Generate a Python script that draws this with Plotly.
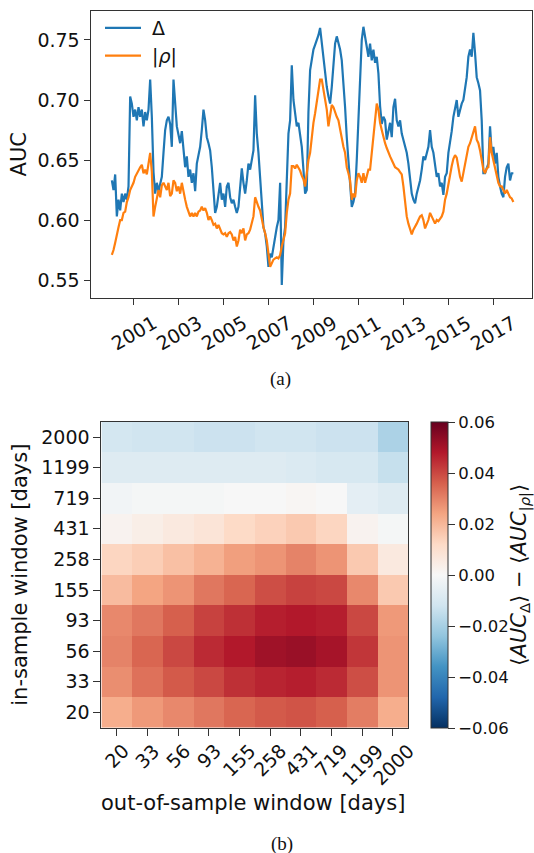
import pandas as pd
import plotly.graph_objects as go

# ---------------- data: panel (a) ----------------
series_start = "2000-01-11"
sample_step = "650h"  # ~27 days between read-off samples

delta_auc = [
    0.633, 0.625, 0.638, 0.603, 0.617, 0.608, 0.622, 0.615, 0.622, 0.617, 0.628,
    0.703, 0.697, 0.686, 0.692, 0.683, 0.694, 0.686, 0.692, 0.678, 0.690, 0.683, 0.692,
    0.717, 0.686, 0.640, 0.622, 0.631, 0.624, 0.631, 0.636, 0.656, 0.675, 0.683, 0.686,
    0.680, 0.661, 0.717, 0.700, 0.678, 0.671, 0.664, 0.674, 0.658, 0.644,
    0.653, 0.636, 0.642, 0.631, 0.639, 0.624, 0.647, 0.653, 0.661, 0.675,
    0.692, 0.683, 0.669, 0.664, 0.658, 0.644, 0.622, 0.606, 0.611, 0.622,
    0.631, 0.617, 0.622, 0.611, 0.628, 0.631, 0.619, 0.614, 0.617, 0.611,
    0.606, 0.611,
    0.625, 0.643, 0.631, 0.622, 0.633, 0.647, 0.642, 0.650, 0.658, 0.704,
    0.672, 0.656, 0.633, 0.617, 0.594, 0.589, 0.578, 0.561, 0.572, 0.569,
    0.578, 0.586, 0.594, 0.600, 0.631, 0.546, 0.583, 0.594, 0.633, 0.672,
    0.683, 0.729, 0.700, 0.686, 0.678, 0.681, 0.672, 0.661, 0.642, 0.622,
    0.625, 0.690, 0.725, 0.735,
    0.742, 0.746, 0.750, 0.754, 0.760, 0.747, 0.733, 0.725, 0.711, 0.703,
    0.697, 0.711, 0.733, 0.747, 0.753, 0.747, 0.742, 0.733, 0.717, 0.694,
    0.669, 0.647, 0.631, 0.611, 0.615, 0.622, 0.650, 0.683, 0.725, 0.750,
    0.761, 0.753, 0.744, 0.736, 0.747, 0.733, 0.742, 0.731, 0.736, 0.722,
    0.695, 0.680, 0.686, 0.683, 0.667, 0.675, 0.681, 0.669, 0.694, 0.701,
    0.683, 0.678, 0.683, 0.672, 0.667, 0.661, 0.656, 0.647, 0.633, 0.622,
    0.617, 0.614, 0.622, 0.628, 0.633, 0.642, 0.653, 0.650, 0.656, 0.661,
    0.675, 0.661, 0.656, 0.644, 0.636, 0.639, 0.628, 0.631, 0.621, 0.636,
    0.639, 0.656,
    0.664, 0.674, 0.686, 0.692, 0.700, 0.686, 0.692, 0.697, 0.700, 0.708,
    0.719, 0.736, 0.742, 0.736, 0.756, 0.739, 0.719, 0.714, 0.708, 0.683,
    0.639, 0.639, 0.644, 0.647, 0.678, 0.656, 0.661, 0.647, 0.656, 0.636,
    0.628, 0.622, 0.619, 0.636, 0.644, 0.647, 0.633, 0.639, 0.639,
]

rho_auc = [
    0.571, 0.575, 0.581, 0.589, 0.594, 0.600, 0.600, 0.606, 0.607, 0.615, 0.619,
    0.625, 0.628, 0.631, 0.636, 0.639, 0.642, 0.644, 0.646, 0.639, 0.642,
    0.638, 0.647, 0.656, 0.640, 0.603, 0.611, 0.619, 0.625, 0.619, 0.629,
    0.631, 0.628, 0.625, 0.631,
    0.620, 0.622, 0.633, 0.631, 0.624, 0.628, 0.622, 0.631, 0.622, 0.617,
    0.611, 0.607, 0.603, 0.606, 0.603, 0.606, 0.603, 0.607, 0.608, 0.611,
    0.608, 0.610, 0.606, 0.600, 0.603, 0.600, 0.596, 0.597, 0.593, 0.596,
    0.592, 0.589, 0.588, 0.589, 0.586, 0.589, 0.590, 0.588, 0.583, 0.586,
    0.578, 0.583,
    0.592, 0.589, 0.593, 0.583, 0.588, 0.589, 0.592, 0.597, 0.603, 0.619,
    0.614, 0.611, 0.608, 0.600, 0.594, 0.589, 0.583, 0.572, 0.561, 0.564,
    0.567, 0.568, 0.569, 0.568, 0.571, 0.578, 0.583, 0.589, 0.606, 0.617,
    0.622, 0.645, 0.645, 0.643, 0.646, 0.644, 0.641, 0.637, 0.634, 0.628,
    0.642, 0.650, 0.656, 0.672,
    0.681, 0.689, 0.700, 0.708, 0.717, 0.717, 0.708, 0.703, 0.692, 0.678,
    0.689, 0.696, 0.694, 0.689, 0.686, 0.683, 0.675, 0.667, 0.661, 0.656,
    0.644, 0.639, 0.633, 0.617, 0.622, 0.619, 0.633, 0.639, 0.636, 0.631,
    0.639, 0.631, 0.636, 0.642, 0.642, 0.656, 0.675, 0.689, 0.697, 0.692,
    0.681, 0.675, 0.669, 0.664, 0.660, 0.656, 0.653, 0.650, 0.647, 0.644,
    0.643, 0.642, 0.640, 0.638, 0.628, 0.614, 0.603, 0.597, 0.592, 0.588,
    0.592, 0.594, 0.597, 0.600, 0.603, 0.604, 0.600, 0.593, 0.597, 0.600,
    0.606, 0.603, 0.599, 0.597, 0.600, 0.599, 0.601, 0.603, 0.607, 0.617,
    0.622, 0.631,
    0.640, 0.645, 0.651, 0.654, 0.652, 0.642, 0.636, 0.632, 0.639, 0.647,
    0.656, 0.661, 0.664, 0.669, 0.675, 0.678, 0.667, 0.664, 0.658, 0.650,
    0.642, 0.639, 0.643, 0.644, 0.669, 0.656, 0.650, 0.644, 0.639, 0.631,
    0.628, 0.628, 0.625, 0.622, 0.625, 0.622, 0.619, 0.618, 0.615,
]

year_ticks = [2001, 2003, 2005, 2007, 2009, 2011, 2013, 2015, 2017]
auc_ticks = [0.55, 0.60, 0.65, 0.70, 0.75]

# ---------------- data: panel (b) ----------------
out_sample = [20, 33, 56, 93, 155, 258, 431, 719, 1199, 2000]
in_sample = [20, 33, 56, 93, 155, 258, 431, 719, 1199, 2000]
# rows follow in_sample (bottom -> top), columns follow out_sample
auc_diff = [
    [0.022, 0.026, 0.029, 0.032, 0.035, 0.037, 0.038, 0.036, 0.031, 0.022],
    [0.028, 0.033, 0.037, 0.040, 0.044, 0.046, 0.047, 0.045, 0.039, 0.027],
    [0.030, 0.035, 0.040, 0.045, 0.048, 0.051, 0.052, 0.050, 0.043, 0.027],
    [0.029, 0.032, 0.036, 0.041, 0.044, 0.047, 0.048, 0.047, 0.040, 0.026],
    [0.019, 0.024, 0.027, 0.032, 0.035, 0.039, 0.041, 0.040, 0.029, 0.016],
    [0.013, 0.015, 0.018, 0.021, 0.025, 0.027, 0.030, 0.027, 0.016, 0.006],
    [0.002, 0.004, 0.006, 0.008, 0.012, 0.014, 0.016, 0.013, 0.002, -0.001],
    [-0.002, -0.001, -0.001, -0.001, 0.000, 0.000, 0.001, 0.000, -0.006, -0.008],
    [-0.008, -0.008, -0.008, -0.008, -0.008, -0.008, -0.009, -0.010, -0.010, -0.014],
    [-0.011, -0.012, -0.012, -0.013, -0.013, -0.012, -0.012, -0.013, -0.013, -0.019],
]
cbar_ticks = [-0.06, -0.04, -0.02, 0.00, 0.02, 0.04, 0.06]
cbar_label = "⟨<i>AUC</i><sub>Δ</sub>⟩ − ⟨<i>AUC</i><sub>|<i>ρ</i>|</sub>⟩"

# ---------------- styling ----------------
W, H = 534, 853
FONT = "DejaVu Sans"
TICK = 19
CBTICK = 16.5
LABEL = 21
AX = "#333333"
BLUE = "#1f77b4"
ORANGE = "#ff7f0e"
RDBU_R = ["#053061", "#2166ac", "#4393c3", "#92c5de", "#d1e5f0", "#f7f7f7",
          "#fddbc7", "#f4a582", "#d6604d", "#b2182b", "#67001f"]
colorscale = [[i / (len(RDBU_R) - 1), c] for i, c in enumerate(RDBU_R)]


def fx(p):
    return p / W


def fy(p):
    return 1 - p / H


dates_d = pd.date_range(series_start, periods=len(delta_auc), freq=sample_step)
dates_r = pd.date_range(series_start, periods=len(rho_auc), freq=sample_step)

fig = go.Figure()
fig.add_trace(go.Scatter(x=dates_d, y=delta_auc, mode="lines", name="\u00a0Δ",
                         line=dict(color=BLUE, width=2.2), xaxis="x", yaxis="y"))
fig.add_trace(go.Scatter(x=dates_r, y=rho_auc, mode="lines", name="\u00a0|<i>ρ</i>|",
                         line=dict(color=ORANGE, width=2.2), xaxis="x", yaxis="y"))

out_idx = list(range(len(out_sample)))
in_idx = list(range(len(in_sample)))

fig.add_trace(go.Heatmap(
    z=auc_diff, x=out_idx, y=in_idx,
    colorscale=colorscale, zmin=-0.06, zmax=0.06, xaxis="x2", yaxis="y2",
    showlegend=False,
    colorbar=dict(x=fx(431), xanchor="left", y=fy(728), yanchor="bottom",
                  len=306, lenmode="pixels", thickness=17, thicknessmode="pixels",
                  outlinewidth=1, outlinecolor=AX, tickvals=cbar_ticks,
                  tickformat=".2f", ticks="outside", ticklen=7, tickwidth=1,
                  tickcolor=AX, tickfont=dict(size=CBTICK, color="#111"),
                  xpad=0, ypad=0),
))
# empty carrier so that a right-hand axis can hold the colour-bar label
fig.add_trace(go.Scatter(x=[None], y=[None], xaxis="x2", yaxis="y3",
                         showlegend=False, hoverinfo="skip", mode="lines"))

tick_dates = [f"{y}-01-01" for y in year_ticks]
axis_common = dict(showline=True, mirror=True, linecolor=AX, linewidth=1,
                   ticks="outside", tickcolor=AX, tickwidth=1, showgrid=False,
                   zeroline=False, automargin=False)

fig.update_layout(
    width=W, height=H,
    margin=dict(l=0, r=0, t=0, b=0, pad=0, autoexpand=False),
    paper_bgcolor="white", plot_bgcolor="white", template="none",
    font=dict(family=FONT, size=TICK, color="#111"),
    xaxis=dict(domain=[fx(90.5), fx(532)], anchor="y", type="date",
               range=["1999-01-29", "2018-09-23"], tickvals=tick_dates,
               showticklabels=False, ticklen=6, **axis_common),
    yaxis=dict(domain=[fy(297.7), fy(10.7)], anchor="x", range=[0.5353, 0.7744],
               tickvals=auc_ticks, tickformat=".2f", ticklen=6,
               tickfont=dict(size=TICK),
               title=dict(text="AUC", font=dict(size=LABEL), standoff=5),
               **axis_common),
    xaxis2=dict(domain=[fx(101.4), fx(408)], anchor="y2", type="linear",
                range=[-0.5, len(out_sample) - 0.5], tickvals=out_idx,
                showticklabels=False, ticklen=7, **axis_common),
    yaxis2=dict(domain=[fy(727.7), fy(421.7)], anchor="x2", type="linear",
                range=[-0.5, len(in_sample) - 0.5], tickvals=in_idx,
                ticktext=[str(v) for v in in_sample],
                ticklen=7, tickfont=dict(size=TICK),
                title=dict(text="in-sample window [days]", font=dict(size=LABEL),
                           standoff=7),
                **axis_common),
    yaxis3=dict(domain=[fy(727.7), fy(421.7)], anchor="free", overlaying="y2",
                position=fx(511), side="right", showline=False,
                showticklabels=False, ticks="", showgrid=False, zeroline=False,
                automargin=False, range=[0, 1],
                title=dict(text=cbar_label, font=dict(size=LABEL), standoff=0)),
    legend=dict(x=fx(100), y=fy(9), xanchor="left", yanchor="top",
                bgcolor="rgba(0,0,0,0)", borderwidth=0,
                font=dict(size=TICK), itemwidth=36, tracegroupgap=0),
    showlegend=True,
)

ann = []
for y, d in zip(year_ticks, tick_dates):
    ann.append(dict(x=d, xref="x", y=fy(309), yref="paper", text=str(y),
                    textangle=-30, xanchor="center", yanchor="top",
                    showarrow=False, font=dict(size=TICK)))
for i, v in zip(out_idx, out_sample):
    ann.append(dict(x=i, xref="x2", y=fy(737), yref="paper", text=str(v),
                    textangle=-45, xanchor="center", yanchor="top",
                    showarrow=False, font=dict(size=TICK)))
centered = dict(xref="paper", yref="paper", xanchor="center", yanchor="middle",
                showarrow=False)
ann += [
    dict(x=fx(253), y=fy(803), text="out-of-sample window [days]",
         font=dict(size=LABEL), **centered),
    dict(x=fx(280), y=fy(378.5), text="(a)",
         font=dict(family="Liberation Serif", size=19), **centered),
    dict(x=fx(281.5), y=fy(844), text="(b)",
         font=dict(family="Liberation Serif", size=19), **centered),
]
fig.update_layout(annotations=ann)

fig.write_html("out.html")
